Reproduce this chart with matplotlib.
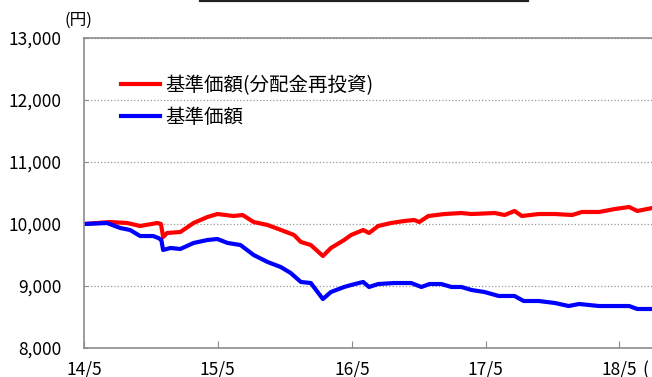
import numpy as np
import pandas as pd
import matplotlib.pyplot as plt
from matplotlib.lines import Line2D

plt.rcParams['font.family'] = ['Noto Sans CJK JP', 'DejaVu Sans']

# 基準価額（分配金再投資）
red_dates = ['2014-05-01', '2014-07-11', '2014-08-27', '2014-10-01', '2014-11-17',
             '2014-11-27', '2014-12-03', '2014-12-14', '2015-01-19', '2015-02-24',
             '2015-04-03', '2015-04-30', '2015-06-13', '2015-07-08', '2015-08-07',
             '2015-09-14', '2015-10-28', '2015-11-25', '2015-12-14', '2016-01-10',
             '2016-02-12', '2016-03-05', '2016-04-10', '2016-04-29', '2016-06-01',
             '2016-06-17', '2016-07-12', '2016-08-16', '2016-09-21', '2016-10-18',
             '2016-11-01', '2016-11-26', '2017-01-09', '2017-02-24', '2017-03-24',
             '2017-05-26', '2017-06-22', '2017-07-19', '2017-08-08', '2017-09-23',
             '2017-11-06', '2017-12-23', '2018-01-19', '2018-03-07', '2018-04-19',
             '2018-05-28', '2018-06-19', '2018-07-30', '2018-08-20']
red_vals = [10000, 10032, 10016, 9968, 10016,
            10000, 9790, 9855, 9871, 10016,
            10113, 10161, 10129, 10145, 10032,
            9984, 9887, 9823, 9710, 9661,
            9484, 9613, 9742, 9823, 9903,
            9855, 9968, 10016, 10048, 10065,
            10032, 10129, 10161, 10177, 10161,
            10177, 10145, 10210, 10129, 10161,
            10161, 10145, 10194, 10194, 10242,
            10274, 10210, 10258, 10258]

# 基準価額
blue_dates = ['2014-05-01', '2014-07-03', '2014-08-08', '2014-09-04', '2014-10-01',
              '2014-11-06', '2014-11-20', '2014-11-28', '2014-12-03', '2014-12-23',
              '2015-01-19', '2015-02-24', '2015-04-03', '2015-04-30', '2015-05-28',
              '2015-07-02', '2015-08-07', '2015-09-14', '2015-10-20', '2015-11-16',
              '2015-12-14', '2016-01-10', '2016-02-12', '2016-03-05', '2016-04-10',
              '2016-04-29', '2016-06-01', '2016-06-17', '2016-07-12', '2016-08-25',
              '2016-10-10', '2016-11-07', '2016-11-29', '2016-12-31', '2017-01-28',
              '2017-02-24', '2017-03-24', '2017-04-28', '2017-06-06', '2017-07-19',
              '2017-08-13', '2017-09-23', '2017-11-06', '2017-12-14', '2018-01-11',
              '2018-03-07', '2018-04-19', '2018-05-28', '2018-06-19', '2018-08-20']
blue_vals = [10000, 10016, 9935, 9903, 9806,
             9806, 9774, 9742, 9581, 9613,
             9597, 9694, 9742, 9758, 9694,
             9661, 9500, 9387, 9306, 9210,
             9065, 9048, 8790, 8903, 8984,
             9016, 9065, 8984, 9032, 9048,
             9048, 8984, 9032, 9032, 8984,
             8984, 8935, 8903, 8839, 8839,
             8758, 8758, 8726, 8677, 8710,
             8677, 8677, 8677, 8629, 8629]

tick_dates = ['2014-05-01', '2015-05-01', '2016-05-01', '2017-05-01', '2018-05-01']
tick_labels = ['14/5', '15/5', '16/5', '17/5', '18/5']
y_ticks = [8000, 9000, 10000, 11000, 12000, 13000]

fig = plt.figure(figsize=(6.52, 3.77), dpi=100)
ax = fig.add_axes([84/652, 29/377, 580/652, 310/377])

ax.plot(pd.to_datetime(red_dates), red_vals, color='#ff0000', lw=3.0,
        label='基準価額(分配金再投資)', solid_joinstyle='round')
ax.plot(pd.to_datetime(blue_dates), blue_vals, color='#0000ff', lw=3.0,
        label='基準価額', solid_joinstyle='round')

ax.set_xlim(pd.Timestamp('2014-05-01'), pd.Timestamp('2018-08-31'))
ax.set_ylim(8000, 13000)
ax.set_yticks(y_ticks)
ax.set_yticklabels([f'{v:,}' for v in y_ticks])
ax.set_xticks(pd.to_datetime(tick_dates))
ax.set_xticklabels(tick_labels)

ax.grid(axis='y', linestyle=':', color='#999999', lw=0.9)
for s in ['left', 'bottom', 'top']:
    ax.spines[s].set_color('#8c8c8c')
    ax.spines[s].set_linewidth(1.2)
ax.spines['right'].set_visible(False)
ax.tick_params(axis='x', direction='in', length=5, color='#8c8c8c', pad=9,
               labelsize=12.5)
ax.tick_params(axis='y', direction='in', length=3, color='#8c8c8c', pad=16,
               labelsize=12.5)

ax.legend(loc='upper left', bbox_to_anchor=(0.064, 0.88), frameon=False,
          fontsize=14, handlelength=2.0, handletextpad=0.25,
          labelspacing=0.55, borderpad=0, borderaxespad=0)

fig.text(78/652, 1 - 20/377, '(円)', ha='center', va='center', fontsize=12)
# the "(年/月)" label is cut by the picture's edge; only its "(" shows
fig.text(642/652, 1 - 370/377, '(', ha='left', va='center', fontsize=12.5)
fig.add_artist(Line2D([201/652, 527/652], [1.0, 1.0], color='#222222', lw=3))

fig.savefig('out.png', dpi=100)
